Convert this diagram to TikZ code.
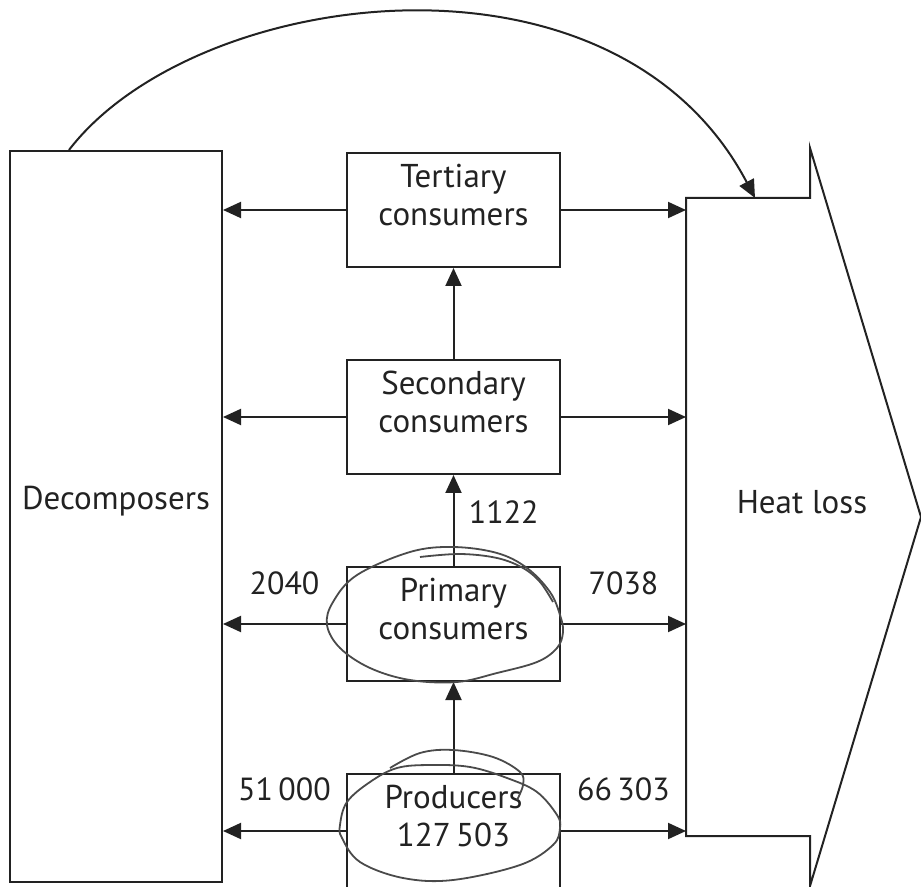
\documentclass[tikz,border=0pt]{standalone}
\usepackage{fontspec}
\setmainfont{PT Sans}
\usetikzlibrary{calc}
\usetikzlibrary{positioning}
\usetikzlibrary{arrows.meta}
\definecolor{ink}{HTML}{222222}
\definecolor{pencil}{HTML}{4A4A4A}
\tikzset{
heavy/.style={line width=1pt},
box/.style={draw=ink, heavy, minimum width=106.5pt, minimum height=57pt, inner sep=0pt},
boxtext/.style={align=center, font=\fontsize{16.5}{19}\selectfont, text=ink, inner sep=0pt},
caption/.style={label={[boxtext, yshift=7.5pt]center:{#1}}},
flow/.style={-{Triangle[length=9pt,width=8pt]}, draw=ink, heavy},
num/.style={font=\fontsize{16}{19}\selectfont, text=ink, inner sep=0pt},
scribble/.style={draw=pencil, line width=0.9pt},
}
\begin{document}
\begin{tikzpicture}[x=0.5pt, y=-0.5pt, node distance=45.5pt]
	\useasboundingbox (0,0) rectangle (921,887);
	%
	\node[box, minimum width=106pt, minimum height=365.5pt, caption={Decomposers}] (dec) at (116,516.5) {};
	%
	\node[box, caption={Tertiary\\consumers}] (tert) at (453.5,210) {};
	\node[box, caption={Secondary\\consumers}, below=of tert] (sec) {};
	\node[box, caption={Primary\\consumers}, below=of sec] (prim) {};
	\node[box, caption={Producers\\127\,503}, below=of prim] (prod) {};
	%
	\draw[ink, heavy] (686,198) coordinate (hnw) -- (810,198) -- (810,148) -- (921,517) coordinate (htip)
		-- (810,886) -- (810,836) -- (686,836) coordinate (hsw) -- cycle;
	\node[boxtext] (heat) at (802,502) {Heat loss};
	%
	\foreach \b in {tert, sec, prim, prod} {
		\draw[flow] (\b.west) -- (\b.west -| dec.east);
		\draw[flow] (\b.east) -- (\b.east -| hnw);
	}
	\draw[flow] (prod) -- (prim);
	\draw[flow] (prim) -- (sec);
	\draw[flow] (sec) -- (tert);
	%
	\coordinate (arcstart) at ($(dec.north west)+(60,0)$);
	\coordinate (arcend) at (755,198);
	\draw[flow] (arcstart) .. controls +(125,-163) and +(-141,-268) .. (arcend);
	%
	\node[num, anchor=west, xshift=7.5pt, yshift=4pt] (n1122) at ($(prim.north)!.5!(sec.south)$) {1122};
	\node[num, yshift=20.5pt] (n2040) at ($(prim.west)!.5!(prim.west -| dec.east)$) {2040};
	\node[num, yshift=20.5pt] (n7038) at ($(prim.east)!.5!(prim.east -| hnw)$) {7038};
	\node[num, yshift=21pt] (n51000) at ($(prod.west)!.5!(prod.west -| dec.east)$) {51\,000};
	\node[num, yshift=21pt] (n66303) at ($(prod.east)!.5!(prod.east -| hnw)$) {66\,303};
	%
	\draw[scribble] plot[smooth cycle, tension=0.6] coordinates {(327,625) (333,602) (357,575) (410,552) (453,547)
		(497,553) (527,568) (550,592) (560,615) (563,632) (557,648) (537,662) (497,673) (457,682) (410,680) (370,668) (340,648)};
	\draw[scribble] plot[smooth, tension=0.6] coordinates {(420,557) (460,554) (497,558) (523,568) (540,582) (553,602)};
	\draw[scribble] plot[smooth cycle, tension=0.6] coordinates {(340,825) (347,802) (370,782) (397,768) (430,765)
		(470,767) (507,778) (537,792) (557,815) (560,828) (553,845) (520,865) (453,880) (403,878) (360,862) (342,838)};
	\draw[scribble] plot[smooth, tension=0.6] coordinates {(390,768) (420,753) (453,750) (493,757) (520,772) (523,785) (517,800)};
\end{tikzpicture}
\end{document}
